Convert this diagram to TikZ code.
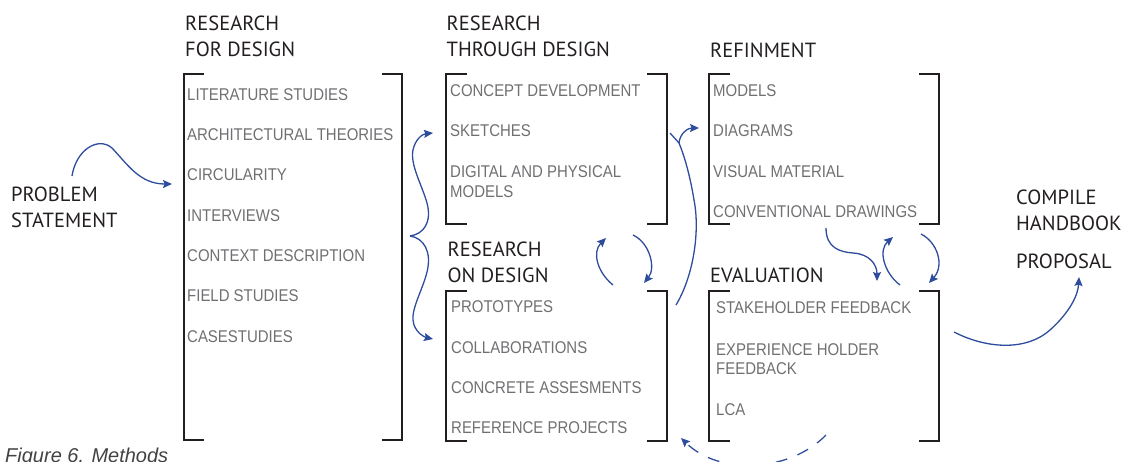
\documentclass[tikz,border=0pt]{standalone}
\usepackage{fontspec}
\usepackage{tikz}
\usetikzlibrary{arrows.meta}
\newfontfamily\headfont{PT Sans}
\newfontfamily\itemfont[FakeStretch=0.88]{Liberation Sans}
\newfontfamily\capfont{Liberation Sans}
\definecolor{ink}{HTML}{231F20}
\definecolor{itemgray}{HTML}{707073}
\definecolor{flowblue}{HTML}{2E4C9C}

\begin{document}
\begin{tikzpicture}[x=1pt,y=-1pt,
  head/.style={anchor=base west, inner sep=0pt, text=ink, font=\headfont\fontsize{20.5}{25}\selectfont},
  item/.style={anchor=base west, inner sep=0pt, text=itemgray, font=\itemfont\fontsize{17}{20}\selectfont},
  brk/.style={draw=ink, line width=1.9pt},
  flow/.style={draw=flowblue, line width=1.3pt, -{Stealth[length=9pt,width=8pt,inset=1.5pt]}}]
\useasboundingbox (0,0) rectangle (1131,461);
\clip (0,0) rectangle (1131,461);

\node[head] (ps1) at (11,201.7) {PROBLEM};
\node[head] (ps2) at (11,227.7) {STATEMENT};

\node[head] (rfd1) at (185,30.7) {RESEARCH};
\node[head] (rfd2) at (185,56) {FOR DESIGN};
\draw [brk] (204,74) -- (184,74) -- (184,440) -- (204,440);
\draw [brk] (382,74) -- (402,74) -- (402,440) -- (382,440);
\node[item] (lit) at (187,100) {LITERATURE STUDIES};
\node[item] (arch) at (187,140.5) {ARCHITECTURAL THEORIES};
\node[item] (circ) at (187,180.5) {CIRCULARITY};
\node[item] (interv) at (187,221.5) {INTERVIEWS};
\node[item] (context) at (187,261.5) {CONTEXT DESCRIPTION};
\node[item] (field) at (187,301.5) {FIELD STUDIES};
\node[item] (cases) at (187,342.5) {CASESTUDIES};

\node[head] (rtd1) at (446.5,30.7) {RESEARCH};
\node[head] (rtd2) at (446.5,56.5) {THROUGH DESIGN};
\draw [brk] (467,74) -- (446,74) -- (446,224) -- (467,224);
\draw [brk] (647,74) -- (667,74) -- (667,224) -- (647,224);
\node[item] (concept) at (450,96.7) {CONCEPT DEVELOPMENT};
\node[item] (sketch) at (450,136.7) {SKETCHES};
\node[item] (digital) at (450,177.7) {DIGITAL AND PHYSICAL};
\node[item] (digital2) at (450,197.7) {MODELS};

\node[head] (rod1) at (447.5,256.7) {RESEARCH};
\node[head] (rod2) at (447.5,282.7) {ON DESIGN};
\draw [brk] (467,291) -- (446,291) -- (446,441) -- (467,441);
\draw [brk] (647,291) -- (667,291) -- (667,441) -- (647,441);
\node[item] (proto) at (451,312.5) {PROTOTYPES};
\node[item] (collab) at (451,353) {COLLABORATIONS};
\node[item] (concrete) at (451,393) {CONCRETE ASSESMENTS};
\node[item] (refproj) at (451,433) {REFERENCE PROJECTS};

\node[head] (ref1) at (710,57.3) {REFINMENT};
\draw [brk] (730,74) -- (709,74) -- (709,224) -- (730,224);
\draw [brk] (919,74) -- (939,74) -- (939,224) -- (919,224);
\node[item] (models) at (713,96.7) {MODELS};
\node[item] (diagr) at (713,136.7) {DIAGRAMS};
\node[item] (visual) at (713,177.3) {VISUAL MATERIAL};
\node[item] (convdr) at (713,217.5) {CONVENTIONAL DRAWINGS};

\node[head] (eval1) at (710,282.3) {EVALUATION};
\draw [brk] (730,291) -- (709,291) -- (709,441) -- (730,441);
\draw [brk] (919,291) -- (939,291) -- (939,441) -- (919,441);
\node[item] (stake) at (716,313) {STAKEHOLDER FEEDBACK};
\node[item] (exper) at (716,355) {EXPERIENCE HOLDER};
\node[item] (exper2) at (716,374) {FEEDBACK};
\node[item] (lca) at (716,415) {LCA};

\node[head] (comp1) at (1016,204) {COMPILE};
\node[head] (comp2) at (1016,230) {HANDBOOK};
\node[head] (prop) at (1016,268.3) {PROPOSAL};

\node[anchor=base west, inner sep=0pt, text=ink!85, font=\capfont\itshape\fontsize{20}{24}\selectfont] (fig) at (5,462) {Figure 6. Methods};

\coordinate (ps-out) at (72,176);
\coordinate (rfd-in) at (172,184);
\coordinate (rfd-out) at (410,236);
\coordinate (rtd-in) at (433,133);
\coordinate (rod-in) at (433,339);
\coordinate (rod-out) at (676,305);
\coordinate (ref-in) at (699,128);
\coordinate (rod-up) at (613,285);
\coordinate (rtd-up) at (606,238);
\coordinate (rtd-down) at (633,235);
\coordinate (rod-down) at (644,283);
\coordinate (ref-out) at (826,228);
\coordinate (eval-in) at (877,281);
\coordinate (eval-up) at (900,285);
\coordinate (ref-up) at (893,237);
\coordinate (ref-down) at (921,234);
\coordinate (eval-down) at (929,283);
\coordinate (eval-out) at (954,332);
\coordinate (prop-in) at (1079,277);
\coordinate (eval-back) at (826,435);
\coordinate (rod-back) at (681,438);

\draw [flow] (ps-out) .. controls (76,150) and (98,136) .. (112,148) .. controls (128,165) and (140,184) .. (rfd-in);
\draw [flow] (rfd-out) .. controls (424,234) and (432,222) .. (427,203) .. controls (422,185) and (410,165) .. (413,150) .. controls (415,140) and (422,134) .. (rtd-in);
\draw [flow] (rfd-out) .. controls (424,238) and (432,252) .. (427,272) .. controls (422,292) and (409,312) .. (414,325) .. controls (417,333) and (424,337) .. (rod-in);
\draw [flow] (rod-out) .. controls (694,275) and (700,230) .. (694,200) .. controls (690,175) and (684,155) .. (679,143) .. controls (680,133) and (688,128) .. (ref-in);
\draw [draw=flowblue, line width=1.3pt] (670,133) -- (679,143);
\draw [flow] (rod-up) .. controls (597,272) and (592,252) .. (rtd-up);
\draw [flow] (rtd-down) .. controls (650,243) and (656,268) .. (rod-down);
\draw [flow] (ref-out) .. controls (826,248) and (840,252) .. (853,253) .. controls (870,254) and (877,265) .. (eval-in);
\draw [flow] (eval-up) .. controls (884,273) and (878,250) .. (ref-up);
\draw [flow] (ref-down) .. controls (937,242) and (945,265) .. (eval-down);
\draw [flow] (eval-out) .. controls (985,348) and (1025,352) .. (1050,330) .. controls (1070,312) and (1078,295) .. (prop-in);
\draw [flow, dash pattern=on 12pt off 11pt] (eval-back) .. controls (790,472) and (720,476) .. (rod-back);
\end{tikzpicture}
\end{document}
